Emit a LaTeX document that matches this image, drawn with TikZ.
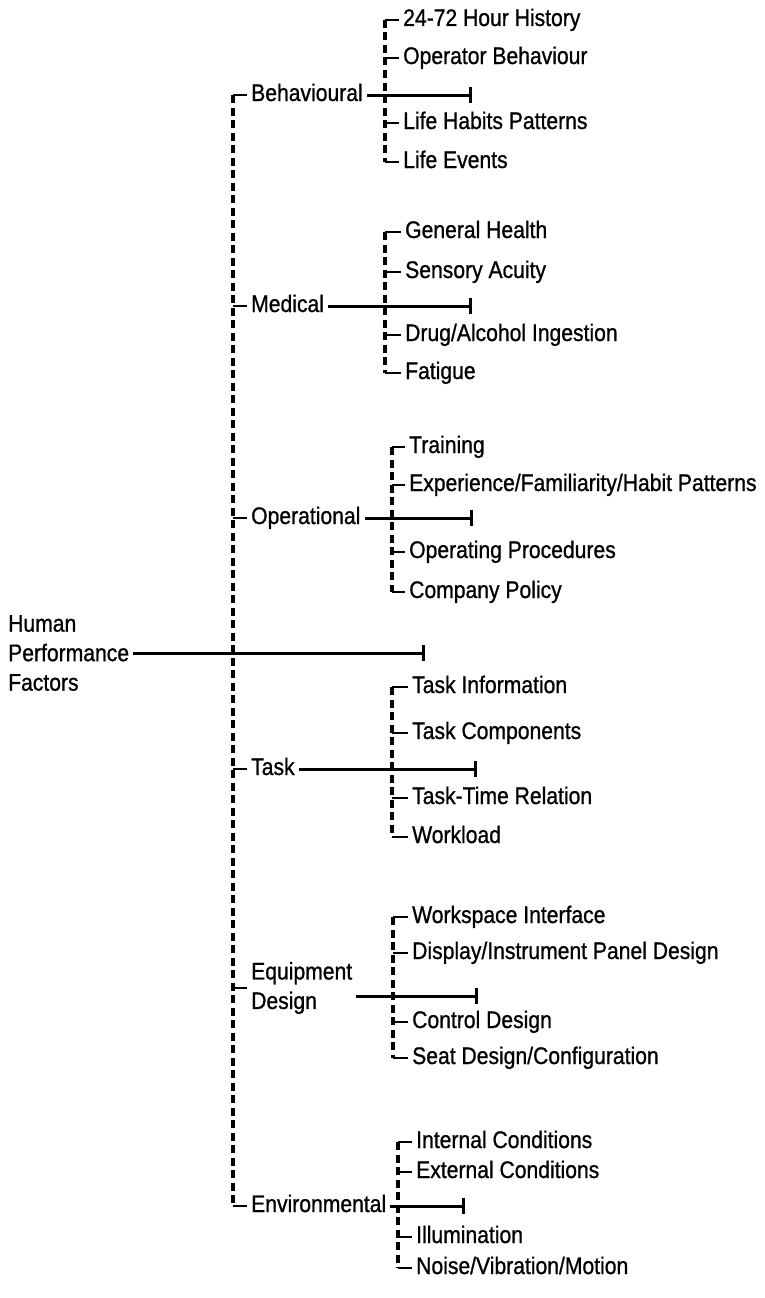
\documentclass[tikz,border=0pt]{standalone}
\usepackage{fontspec}
\setmainfont{Liberation Sans}[FakeStretch=0.88,FakeBold=0.9]
\usetikzlibrary{arrows.meta}
\tikzset{
  lab/.style={anchor=west,inner xsep=4pt,inner ysep=0pt,text height=15pt,text depth=3pt,font=\fontsize{24}{29.5}\selectfont},
  lablines/.style={anchor=west,inner xsep=4pt,inner ysep=0pt,align=left,font=\fontsize{24}{29.5}\selectfont},
  trunk/.style={line width=3.2pt,dash pattern=on 8pt off 4.5pt},
  stub/.style={line width=2.6pt},
  spur/.style={line width=3pt,-{Bar[width=16pt]}}
}
\begin{document}
\begin{tikzpicture}[x=1pt,y=-1pt]
\useasboundingbox (0,0) rectangle (765,1298);
\node[lablines] (hpf) at (4,653) {Human\\Performance\\Factors};
\coordinate (hpfend) at (425,653);
\draw[spur] (hpf.east) -- (hpfend);
\coordinate (ttop) at (233,95);
\coordinate (tbot) at (233,1206);
\draw[trunk] (ttop) -- (tbot);

\node[lab] (beh) at (247,95) {Behavioural};
\draw[stub] (beh.west -| ttop) -- (beh.west);
\coordinate (behend) at (472,95);
\draw[spur] (beh.east) -- (behend);
\coordinate (behtop) at (385,20);
\coordinate (behbot) at (385,162);
\draw[trunk] (behtop) -- (behbot);
\node[lab] (beh1) at (399,20) {24-72 Hour History};
\node[lab] (beh2) at (399,58) {Operator Behaviour};
\node[lab] (beh3) at (399,123) {Life Habits Patterns};
\node[lab] (beh4) at (399,162) {Life Events};
\draw[stub] (beh1.west -| behtop) -- (beh1.west);
\draw[stub] (beh2.west -| behtop) -- (beh2.west);
\draw[stub] (beh3.west -| behtop) -- (beh3.west);
\draw[stub] (beh4.west -| behtop) -- (beh4.west);

\node[lab] (med) at (247,306) {Medical};
\draw[stub] (med.west -| ttop) -- (med.west);
\coordinate (medend) at (472,306);
\draw[spur] (med.east) -- (medend);
\coordinate (medtop) at (385,232);
\coordinate (medbot) at (385,373);
\draw[trunk] (medtop) -- (medbot);
\node[lab] (med1) at (401,232) {General Health};
\node[lab] (med2) at (401,272) {Sensory Acuity};
\node[lab] (med3) at (401,335) {Drug/Alcohol Ingestion};
\node[lab] (med4) at (401,373) {Fatigue};
\draw[stub] (med1.west -| medtop) -- (med1.west);
\draw[stub] (med2.west -| medtop) -- (med2.west);
\draw[stub] (med3.west -| medtop) -- (med3.west);
\draw[stub] (med4.west -| medtop) -- (med4.west);

\node[lab] (opr) at (247,518) {Operational};
\draw[stub] (opr.west -| ttop) -- (opr.west);
\coordinate (oprend) at (473,518);
\draw[spur] (opr.east) -- (oprend);
\coordinate (oprtop) at (392,447);
\coordinate (oprbot) at (392,592);
\draw[trunk] (oprtop) -- (oprbot);
\node[lab] (opr1) at (405,447) {Training};
\node[lab] (opr2) at (405,485) {Experience/Familiarity/Habit Patterns};
\node[lab] (opr3) at (405,552) {Operating Procedures};
\node[lab] (opr4) at (405,592) {Company Policy};
\draw[stub] (opr1.west -| oprtop) -- (opr1.west);
\draw[stub] (opr2.west -| oprtop) -- (opr2.west);
\draw[stub] (opr3.west -| oprtop) -- (opr3.west);
\draw[stub] (opr4.west -| oprtop) -- (opr4.west);

\node[lab] (tsk) at (247,769) {Task};
\draw[stub] (tsk.west -| ttop) -- (tsk.west);
\coordinate (tskend) at (477,769);
\draw[spur] (tsk.east) -- (tskend);
\coordinate (tsktop) at (392,687);
\coordinate (tskbot) at (392,837);
\draw[trunk] (tsktop) -- (tskbot);
\node[lab] (tsk1) at (408,687) {Task Information};
\node[lab] (tsk2) at (408,733) {Task Components};
\node[lab] (tsk3) at (408,798) {Task-Time Relation};
\node[lab] (tsk4) at (408,837) {Workload};
\draw[stub] (tsk1.west -| tsktop) -- (tsk1.west);
\draw[stub] (tsk2.west -| tsktop) -- (tsk2.west);
\draw[stub] (tsk3.west -| tsktop) -- (tsk3.west);
\draw[stub] (tsk4.west -| tsktop) -- (tsk4.west);

\node[lablines] (eqp) at (247,988) {Equipment\\Design};
\draw[stub] (eqp.west -| ttop) -- (eqp.west);
\coordinate (eqpend) at (478,996);
\draw[spur] (eqp.east |- eqpend) -- (eqpend);
\coordinate (eqptop) at (393,917);
\coordinate (eqpbot) at (393,1058);
\draw[trunk] (eqptop) -- (eqpbot);
\node[lab] (eqp1) at (408,917) {Workspace Interface};
\node[lab] (eqp2) at (408,953) {Display/Instrument Panel Design};
\node[lab] (eqp3) at (408,1022) {Control Design};
\node[lab] (eqp4) at (408,1058) {Seat Design/Configuration};
\draw[stub] (eqp1.west -| eqptop) -- (eqp1.west);
\draw[stub] (eqp2.west -| eqptop) -- (eqp2.west);
\draw[stub] (eqp3.west -| eqptop) -- (eqp3.west);
\draw[stub] (eqp4.west -| eqptop) -- (eqp4.west);

\node[lab] (env) at (247,1206) {Environmental};
\draw[stub] (env.west -| ttop) -- (env.west);
\coordinate (envend) at (465,1206);
\draw[spur] (env.east) -- (envend);
\coordinate (envtop) at (398,1142);
\coordinate (envbot) at (398,1268);
\draw[trunk] (envtop) -- (envbot);
\node[lab] (env1) at (412,1142) {Internal Conditions};
\node[lab] (env2) at (412,1172) {External Conditions};
\node[lab] (env3) at (412,1237) {Illumination};
\node[lab] (env4) at (412,1268) {Noise/Vibration/Motion};
\draw[stub] (env1.west -| envtop) -- (env1.west);
\draw[stub] (env2.west -| envtop) -- (env2.west);
\draw[stub] (env3.west -| envtop) -- (env3.west);
\draw[stub] (env4.west -| envtop) -- (env4.west);
\end{tikzpicture}
\end{document}
